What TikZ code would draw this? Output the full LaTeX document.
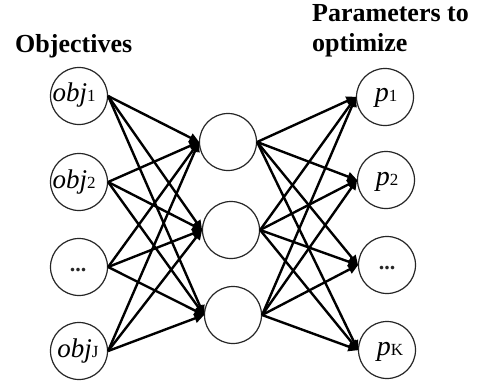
\documentclass[tikz,border=0pt]{standalone}
\usepackage{fontspec}
\setmainfont{Liberation Serif}
\usetikzlibrary{arrows.meta}
\begin{document}
\begin{tikzpicture}[x=1pt,y=1pt,
  neuron/.style={circle,draw=black!85,line width=1.2pt,minimum size=57pt,inner sep=0pt},
  lbl/.style={inner sep=0pt,anchor=base},
  conn/.style={line width=2.4pt,-{Triangle[length=10pt,width=9pt]},shorten >=-0.5pt},
  head/.style={font=\fontsize{26}{30}\selectfont\bfseries,inner sep=0pt,anchor=base west,align=left}]
\useasboundingbox (0,0) rectangle (478,-385);
\fill[white] (0,0) rectangle (478,-385);
% headings
\node[head] (hobj) at (15,-53) {Objectives};
\node[head,anchor=north west] (hpar) at (312,-4) {Parameters to\\optimize};
% left layer
\node[neuron] (o1) at (79,-96) {};
\node[neuron] (o2) at (79,-182) {};
\node[neuron] (o3) at (79,-267) {};
\node[neuron] (o4) at (79,-351) {};
% hidden layer
\node[neuron] (h1) at (228,-142) {};
\node[neuron] (h2) at (231,-230) {};
\node[neuron] (h3) at (233,-315) {};
% right layer
\node[neuron] (p1) at (385,-97) {};
\node[neuron] (p2) at (386,-180) {};
\node[neuron] (p3) at (387,-265) {};
\node[neuron] (p4) at (387,-350) {};
% labels
\node[lbl] (t1) at (74,-102) {\fontsize{27}{27}\selectfont\textit{obj}\fontsize{17}{17}\selectfont 1};
\node[lbl] (t2) at (74,-188) {\fontsize{27}{27}\selectfont\textit{obj}\fontsize{17}{17}\selectfont 2};
\node[lbl,text=black!85] (t3) at (78,-271) {\fontsize{22}{22}\selectfont\bfseries ...};
\node[lbl] (t4) at (78,-357) {\fontsize{27}{27}\selectfont\textit{obj}\fontsize{17}{17}\selectfont J};
\node[lbl] (u1) at (386,-102) {\fontsize{28}{28}\selectfont\textit{p}\fontsize{17}{17}\selectfont 1};
\node[lbl] (u2) at (387,-185) {\fontsize{28}{28}\selectfont\textit{p}\fontsize{17}{17}\selectfont 2};
\node[lbl,text=black!85] (u3) at (387,-269) {\fontsize{22}{22}\selectfont\bfseries ...};
\node[lbl] (u4) at (390,-355) {\fontsize{28}{28}\selectfont\textit{p}\fontsize{17}{17}\selectfont K};
% connections
\foreach \i in {1,2,3,4}{
  \foreach \j in {1,2,3}{
    \draw[conn] (o\i.east) -- (h\j.west);
  }
}
\foreach \j in {1,2,3}{
  \foreach \k in {1,2,3,4}{
    \draw[conn] (h\j.east) -- (p\k.west);
  }
}
\end{tikzpicture}
\end{document}
